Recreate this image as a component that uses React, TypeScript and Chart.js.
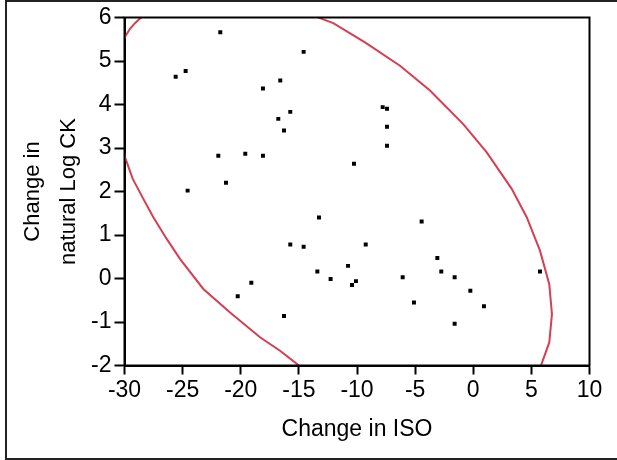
import React, { useEffect, useRef } from 'react';
import { Chart, registerables } from 'chart.js';

Chart.register(...registerables);

// Observations: change in ISO (x) and change in natural log CK (y)
const isoChange = [
  -21.76, -14.59, -24.74, -25.6, -16.6, -18.09, -15.74, -16.77, -16.28, -21.93,
  -19.61, -18.09, -10.26, -21.27, -24.57, -13.27, -15.74, -14.59, -9.25, -13.41,
  -10.77, -12.27, -10.43, -10.09, -19.09, -20.26, -16.28, -7.79, -7.42, -7.42,
  -7.42, -4.44, -3.09, -2.75, -6.07, -1.6, -0.25, -5.1, 0.92, -1.6, 5.74,
];
const logCkChange = [
  5.66, 5.21, 4.77, 4.64, 4.55, 4.37, 3.83, 3.67, 3.4, 2.82,
  2.87, 2.82, 2.64, 2.2, 2.02, 1.4, 0.78, 0.73, 0.78, 0.16,
  0.29, -0.01, -0.15, -0.06, -0.1, -0.41, -0.86, 3.94, 3.9, 3.49,
  3.05, 1.31, 0.47, 0.16, 0.03, 0.03, -0.28, -0.55, -0.64, -1.04, 0.16,
];

// Density ellipse, visible pieces
const ellipseTopLeftX = [-30.05, -29.96, -29.53, -29.1, -28.58, -28.4];
const ellipseTopLeftY = [5.5, 5.55, 5.74, 5.87, 6.0, 6.05];
const ellipseRightX = [-13.5, -13.35, -12.04, -9.31, -6.3, -3.72, -0.86, 1.16, 3.31, 4.6, 5.74, 6.54, 6.77, 6.54, 5.83, 5.8];
const ellipseRightY = [6.05, 6.0, 5.87, 5.43, 4.89, 4.32, 3.55, 2.9, 2.06, 1.41, 0.64, -0.13, -0.82, -1.47, -2.0, -2.05];
const ellipseLowerLeftX = [-30.05, -29.96, -29.29, -28.38, -27.52, -26.37, -25.23, -23.22, -20.92, -18.34, -16.62, -15.0, -14.9];
const ellipseLowerLeftY = [2.95, 2.79, 2.29, 1.83, 1.41, 0.91, 0.45, -0.24, -0.78, -1.35, -1.66, -2.0, -2.05];

const X_MIN = -30;
const X_MAX = 10;
const X_STEP = 5;
const Y_MIN = -2;
const Y_MAX = 6;
const Y_STEP = 1;

const X_TITLE = 'Change in ISO';
const Y_TITLE = ['Change in', 'natural Log CK'];

const FONT = "'Liberation Sans', Arial, sans-serif";
const RED = '#d53f51';

const zip = (xs: number[], ys: number[]) => xs.map((x, i) => ({ x, y: ys[i] }));

const framePlugin = {
  id: 'frames',
  afterDraw(chart: any) {
    const { ctx, chartArea } = chart;
    ctx.save();
    ctx.strokeStyle = '#000';
    ctx.lineWidth = 2;
    ctx.strokeRect(chartArea.left, chartArea.top, chartArea.right - chartArea.left, chartArea.bottom - chartArea.top);
    ctx.strokeStyle = '#222';
    ctx.strokeRect(6, 1, 800, 458);
    ctx.restore();
  },
};

export default function App() {
  const ref = useRef<HTMLCanvasElement | null>(null);

  useEffect(() => {
    if (!ref.current) return;
    const lineDs = (data: { x: number; y: number }[]) => ({
      type: 'scatter' as const,
      data,
      showLine: true,
      borderColor: RED,
      borderWidth: 2,
      pointRadius: 0,
      fill: false,
      tension: 0,
    });
    const chart = new Chart(ref.current, {
      type: 'scatter',
      data: {
        datasets: [
          lineDs(zip(ellipseTopLeftX, ellipseTopLeftY)),
          lineDs(zip(ellipseRightX, ellipseRightY)),
          lineDs(zip(ellipseLowerLeftX, ellipseLowerLeftY)),
          {
            type: 'scatter',
            data: zip(isoChange, logCkChange),
            pointStyle: 'rect',
            pointRadius: 2.8,
            pointBorderWidth: 0,
            backgroundColor: '#000',
            borderColor: '#000',
          },
        ],
      },
      options: {
        animation: false,
        responsive: false,
        maintainAspectRatio: false,
        layout: { padding: { left: 0, top: 17.5, right: 27.5, bottom: 0 } },
        plugins: { legend: { display: false }, tooltip: { enabled: false } },
        scales: {
          x: {
            type: 'linear',
            min: X_MIN,
            max: X_MAX,
            ticks: { stepSize: X_STEP, color: '#000', font: { family: FONT, size: 23 }, padding: 2, maxRotation: 0 },
            grid: { drawOnChartArea: false, drawTicks: true, tickLength: 9, tickColor: '#000', tickWidth: 2 },
            border: { display: true, color: '#000', width: 2 },
            title: { display: true, text: X_TITLE, color: '#000', font: { family: FONT, size: 23 }, padding: { top: 0, bottom: 17 } },
            afterFit: (s: any) => { s.height = 94.5; },
          },
          y: {
            type: 'linear',
            min: Y_MIN,
            max: Y_MAX,
            ticks: { stepSize: Y_STEP, color: '#000', font: { family: FONT, size: 23 }, padding: 3 },
            grid: { drawOnChartArea: false, drawTicks: true, tickLength: 10, tickColor: '#000', tickWidth: 2 },
            border: { display: true, color: '#000', width: 2 },
            title: { display: true, text: Y_TITLE, color: '#000', font: { family: FONT, size: 22, lineHeight: '36px' }, padding: { top: 15, bottom: 0 } },
            afterFit: (s: any) => { s.width = 124.5; },
          },
        },
      },
      plugins: [framePlugin],
    } as any);
    return () => chart.destroy();
  }, []);

  return (
    <div style={{ position: 'fixed', left: 0, top: 0, width: 617, height: 460, background: '#fff' }}>
      <canvas ref={ref} width={617} height={460} style={{ display: 'block', width: 617, height: 460 }} />
    </div>
  );
}
